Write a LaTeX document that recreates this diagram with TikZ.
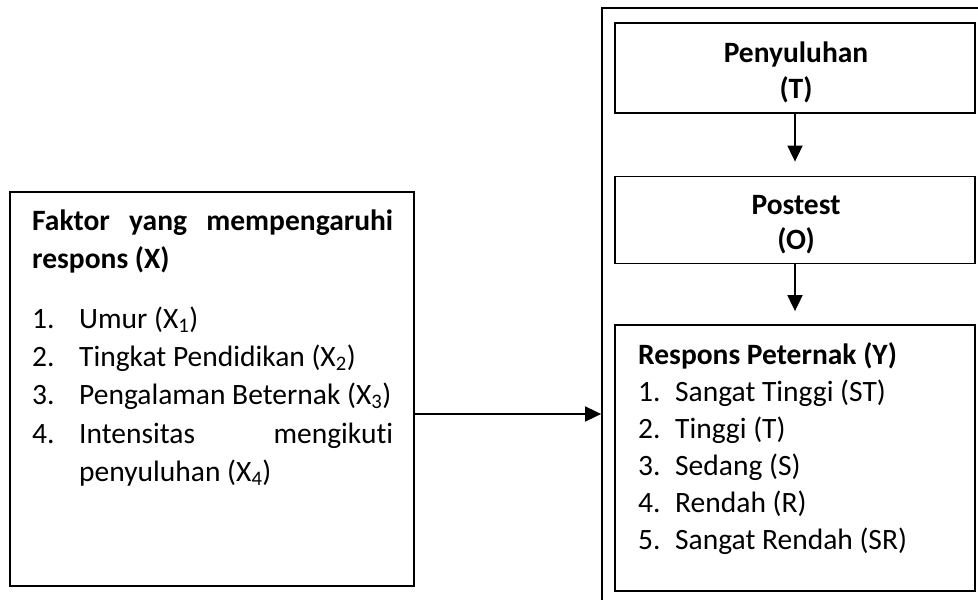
\documentclass[tikz,border=0pt]{standalone}
\usepackage{fontspec}
\setmainfont{Carlito}[Ligatures=NoCommon]
\usetikzlibrary{arrows.meta}
\hyphenpenalty=10000

\tikzset{
  kotak/.style={draw, line width=1.8pt, inner sep=0pt},
  panah/.style={line width=1.8pt, -{Triangle[length=16pt,width=15pt]}},
  teks/.style={anchor=base west, inner sep=0pt, font=\fontsize{29.5}{38}\selectfont},
  judul/.style={teks, font=\fontsize{29.5}{38}\selectfont\bfseries},
}

\begin{document}
\begin{tikzpicture}[x=1pt, y=-1pt]
  \useasboundingbox (0,0) rectangle (978,600);
  \clip (0,0) rectangle (978,600);

  % kotak faktor (kiri)
  \node[kotak, minimum width=404pt, minimum height=394pt] (faktor) at (212,389) {};
  \node[judul, anchor=base west, text width=361pt, align=justify] (faktorjudul) at (32,230)
    {Faktor yang mempengaruhi respons (X)};
  \node[teks] (n1) at (32,328) {1.};
  \node[teks] (x1) at (79,328) {Umur (X\textsubscript{1})};
  \node[teks] (n2) at (32,366) {2.};
  \node[teks] (x2) at (79,366) {Tingkat Pendidikan (X\textsubscript{2})};
  \node[teks] (n3) at (32,404) {3.};
  \node[teks] (x3) at (79,404) {Pengalaman Beternak (X\textsubscript{3})};
  \node[teks] (n4) at (32,443) {4.};
  \node[teks, text width=314pt, align=justify] (x4) at (79,443)
    {Intensitas mengikuti penyuluhan (X\textsubscript{4})};

  % kotak luar (kanan), terpotong di tepi
  \node[kotak, minimum width=390pt, minimum height=600pt] (luar) at (797,308) {};

  % penyuluhan
  \node[kotak, minimum width=360pt, minimum height=90pt] (penyuluhan) at (795,68) {};
  \node[judul, anchor=base] (penyuluhanT1) at (796,62) {Penyuluhan};
  \node[judul, anchor=base] (penyuluhanT2) at (796,98) {(T)};

  % postest
  \node[kotak, minimum width=360pt, minimum height=87pt] (postest) at (795,220) {};
  \node[judul, anchor=base] (postestT1) at (796,214) {Postest};
  \node[judul, anchor=base] (postestT2) at (796,249) {(O)};

  % respons peternak
  \node[kotak, minimum width=360pt, minimum height=266pt] (respons) at (795,458) {};
  \node[judul] (responsjudul) at (638,364) {Respons Peternak (Y)};
  \node[teks] (m1) at (638,401) {1.};
  \node[teks] (y1) at (675,401) {Sangat Tinggi (ST)};
  \node[teks] (m2) at (638,438) {2.};
  \node[teks] (y2) at (675,438) {Tinggi (T)};
  \node[teks] (m3) at (638,475) {3.};
  \node[teks] (y3) at (675,475) {Sedang (S)};
  \node[teks] (m4) at (638,512) {4.};
  \node[teks] (y4) at (675,512) {Rendah (R)};
  \node[teks] (m5) at (638,549) {5.};
  \node[teks] (y5) at (675,549) {Sangat Rendah (SR)};

  % panah
  \coordinate (mulai) at (413,414);
  \draw[panah] (mulai) -- (mulai -| luar.west);
  \draw[panah] (penyuluhan.south) -- ([yshift=14pt]postest.north);
  \draw[panah] (postest.south) -- ([yshift=13pt]respons.north);
\end{tikzpicture}
\end{document}
